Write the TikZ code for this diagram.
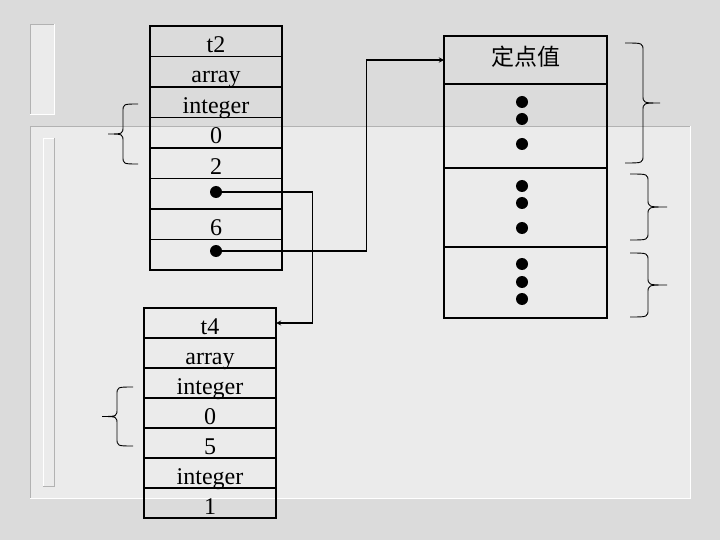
\documentclass[tikz,border=0pt]{standalone}
\usepackage{fontspec}
\setmainfont{Liberation Serif}
\newfontfamily\cjk{Noto Sans CJK SC}
\usetikzlibrary{arrows,calc,positioning}
\tikzset{>=stealth}
\tikzset{
  cell/.style={draw, line width=1.3pt, minimum width=132pt, minimum height=30.5pt,
    inner sep=0pt, outer sep=0pt, text height=22pt, text depth=0pt,
    font=\fontsize{24}{28}\selectfont},
  vcell/.style={draw, line width=1.3pt, minimum width=163pt, inner sep=0pt, outer sep=0pt},
  dot/.style={circle, fill, inner sep=0pt, minimum size=12pt}
}
% curly brace: end x, stem x, tip x, top y, bottom y
\newcommand{\curlybrace}[5]{%
  \draw[line width=0.9pt] (#1,#4) .. controls (#2,#4) .. (#2,#4+8)
    -- (#2,{(#4+#5)/2-8}) .. controls (#2,{(#4+#5)/2}) .. (#3,{(#4+#5)/2})
    .. controls (#2,{(#4+#5)/2}) .. (#2,{(#4+#5)/2+8})
    -- (#2,#5-8) .. controls (#2,#5) .. (#1,#5);}
\begin{document}
\begin{tikzpicture}[x=1pt,y=-1pt]
\useasboundingbox (0,0) rectangle (720,540);
% marble background
\fill[black!14] (0,0) rectangle (720,540);
\fill[black!8] (30,24) rectangle (54,114);
\draw[black!30] (30,114)--(30,24)--(54,24);
\draw[white] (54,24)--(54,114)--(30,114);
\fill[black!8] (30,126) rectangle (690,498);
\draw[black!30] (30,498)--(30,126)--(690,126);
\draw[white] (690,126)--(690,498)--(30,498);
\draw[white] (54,138)--(43,138)--(43,486);
\draw[black!30] (43,486)--(54,486)--(54,138);

% t2
\foreach \lab [count=\i] in {t2,array,integer,0,2,{},6,{}}
  \node[cell] (t2-\i) at (216,{10.75+30.5*\i}) {\lab};
\node[dot] (d1) at (216,192) {};
\node[dot] (d2) at (216,251) {};

% t4
\foreach \lab [count=\i] in {t4,array,integer,0,5,integer,1}
  \node[cell, minimum height=30pt] (t4-\i) at (210,{293+30*\i}) {\lab};

% values
\node[vcell, minimum height=48pt, text height=12pt, text depth=0pt,
  font=\cjk\fontsize{23}{26}\selectfont] (v-1) at (525.5,60) {定点值};
\node[vcell, minimum height=84pt] (v-2) at (525.5,126) {};
\node[vcell, minimum height=79pt] (v-3) at (525.5,207.5) {};
\node[vcell, minimum height=71pt] (v-4) at (525.5,282.5) {};
\foreach \y in {102,119,144,186,203,228,264,282,299}
  \fill (522,\y) circle [radius=6];

% pointers
\draw[->, line width=1.3pt] (d1.east) -- ++(90,0) |- (t4-1.east);
\draw[->, line width=1.3pt] (d2.east) -- ++(144,0) |- (v-1.west);

% braces
\curlybrace{138}{123}{108}{104}{164}
\curlybrace{133}{117}{102}{387}{446}
\curlybrace{625}{643}{660}{43}{163}
\curlybrace{630}{648}{667}{174}{240}
\curlybrace{630}{648}{667}{253}{317}
\end{tikzpicture}
\end{document}
